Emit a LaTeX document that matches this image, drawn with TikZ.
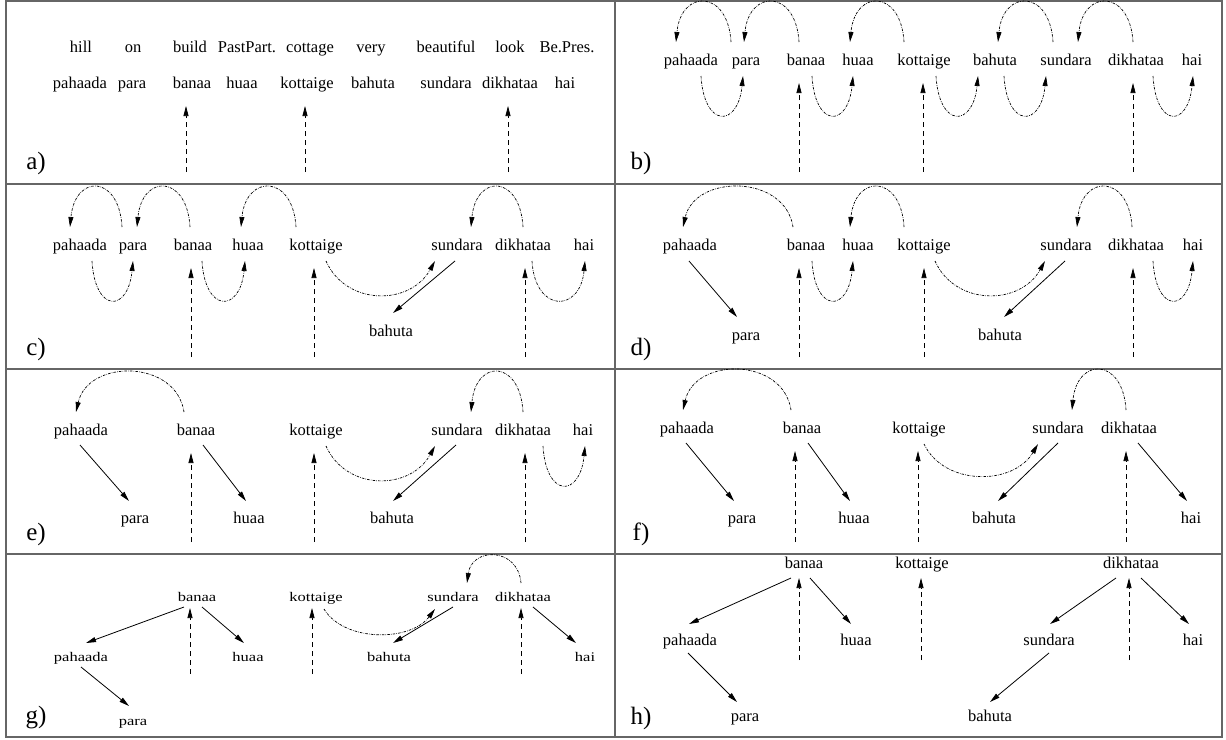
\documentclass[tikz,border=0pt]{standalone}
\usepackage{fontspec}
\setmainfont{Liberation Serif}
\usetikzlibrary{arrows.meta,calc}
\tikzset{
  wd/.style={font=\fontsize{16.5}{16.5}\selectfont, inner sep=0pt, text height=11pt, text depth=3.5pt},
  tipk/.style={-{Triangle[length=10pt,width=5pt]}},
  arcl/.style={tipk, line width=0.7pt, dash pattern=on 2.5pt off 1.2pt on 0.6pt off 1.2pt},
  dasharr/.style={tipk, line width=0.7pt, dash pattern=on 5pt off 4pt},
  solidarr/.style={tipk, line width=0.8pt},
  lbl/.style={font=\fontsize{25}{25}\selectfont, inner sep=0pt},
  frame/.style={draw=black!60, line width=1.3pt}
}
\newcommand\uarc[4]{\draw[arcl] ([shift={(#2,-20)}]#1.center) .. controls +(-3,-53) and +(5,-53) .. ([shift={(#4,-20)}]#3.center);}
\newcommand\larc[4]{\draw[arcl] ([shift={(#2,14)}]#1.center) .. controls +(3,52) and +(-5,52) .. ([shift={(#4,14)}]#3.center);}
\newcommand\sarr[6]{\draw[solidarr] ([shift={(#2,#3)}]#1.center) -- ([shift={(#5,#6)}]#4.center);}
\newcommand\darr[4]{\coordinate (#1-foot) at ([shift={(#2,#4)}]#1.center); \draw[dasharr] (#1-foot) -- ([shift={(#2,#3)}]#1.center);}
\newcommand\gs[1]{\scalebox{1}[0.8]{#1}}
\begin{document}
\begin{tikzpicture}[x=1pt,y=-1pt]
\useasboundingbox (0,0) rectangle (1226,739);
% frame
\draw[frame] (6,1) rectangle (1222,737);
\draw[frame] (615,1) -- (615,737);
\draw[frame] (6,184) -- (1222,184);
\draw[frame] (6,369) -- (1222,369);
\draw[frame] (6,554) -- (1222,554);
% labels
\node[lbl] (la) at (36,163) {a)};
\node[lbl] (lb) at (641,163) {b)};
\node[lbl] (lc) at (36,349) {c)};
\node[lbl] (ld) at (641,349) {d)};
\node[lbl] (le) at (36,534) {e)};
\node[lbl] (lf) at (641,534) {f)};
\node[lbl] (lg) at (36,718) {g)};
\node[lbl] (lh) at (641,718) {h)};

% ---------- panel a
\node[wd] (a-hill) at (81,49) {hill};
\node[wd] (a-on) at (133,49) {on};
\node[wd] (a-build) at (190,49) {build};
\node[wd] (a-pp) at (247,49) {PastPart.};
\node[wd] (a-cottage) at (310,49) {cottage};
\node[wd] (a-very) at (371,49) {very};
\node[wd] (a-beautiful) at (446,49) {beautiful};
\node[wd] (a-look) at (510,49) {look};
\node[wd] (a-bepres) at (567,49) {Be.Pres.};
\node[wd] (a-pahaada) at (80,85) {pahaada};
\node[wd] (a-para) at (132,85) {para};
\node[wd] (a-banaa) at (192,85) {banaa};
\node[wd] (a-huaa) at (242,85) {huaa};
\node[wd] (a-kottaige) at (307,85) {kottaige};
\node[wd] (a-bahuta) at (373,85) {bahuta};
\node[wd] (a-sundara) at (446,85) {sundara};
\node[wd] (a-dikhataa) at (510,85) {dikhataa};
\node[wd] (a-hai) at (565,85) {hai};
\darr{a-banaa}{-6}{21}{87}
\darr{a-kottaige}{-2}{21}{87}
\darr{a-dikhataa}{-2}{21}{87}

% ---------- panel b
\node[wd] (b-pahaada) at (691,62) {pahaada};
\node[wd] (b-para) at (746,62) {para};
\node[wd] (b-banaa) at (806,62) {banaa};
\node[wd] (b-huaa) at (858,62) {huaa};
\node[wd] (b-kottaige) at (924,62) {kottaige};
\node[wd] (b-bahuta) at (995,62) {bahuta};
\node[wd] (b-sundara) at (1066,62) {sundara};
\node[wd] (b-dikhataa) at (1136,62) {dikhataa};
\node[wd] (b-hai) at (1192,62) {hai};
\uarc{b-para}{-15}{b-pahaada}{-15}
\uarc{b-banaa}{-7}{b-para}{-2}
\uarc{b-kottaige}{-20}{b-huaa}{-8}
\uarc{b-sundara}{-13}{b-bahuta}{3}
\uarc{b-dikhataa}{-3}{b-sundara}{12}
\larc{b-pahaada}{10}{b-para}{-3}
\larc{b-banaa}{6}{b-huaa}{-5}
\larc{b-kottaige}{12}{b-bahuta}{-17}
\larc{b-bahuta}{9}{b-sundara}{-20}
\larc{b-dikhataa}{17}{b-hai}{1}
\darr{b-banaa}{-7}{21}{110}
\darr{b-kottaige}{-1}{21}{110}
\darr{b-dikhataa}{-3}{21}{110}

% ---------- panel c
\node[wd] (c-pahaada) at (80,247) {pahaada};
\node[wd] (c-para) at (133,247) {para};
\node[wd] (c-banaa) at (193,247) {banaa};
\node[wd] (c-huaa) at (248,247) {huaa};
\node[wd] (c-kottaige) at (316,247) {kottaige};
\node[wd] (c-sundara) at (457,247) {sundara};
\node[wd] (c-dikhataa) at (523,247) {dikhataa};
\node[wd] (c-hai) at (584,247) {hai};
\node[wd] (c-bahuta) at (391,333) {bahuta};
\uarc{c-para}{-11}{c-pahaada}{-10}
\uarc{c-banaa}{-3}{c-para}{4}
\uarc{c-kottaige}{-20}{c-huaa}{-7}
\uarc{c-dikhataa}{0}{c-sundara}{14}
\larc{c-pahaada}{12}{c-para}{0}
\larc{c-banaa}{9}{c-huaa}{-3}
\larc{c-dikhataa}{9}{c-hai}{1}
\draw[arcl] ([shift={(10,14)}]c-kottaige.center) .. controls +(20,45) and +(-25,45) .. ([shift={(-22,14)}]c-sundara.center);
\sarr{c-sundara}{-2}{14}{c-bahuta}{2}{-20}
\darr{c-banaa}{-2}{21}{110}
\darr{c-kottaige}{-2}{21}{110}
\darr{c-dikhataa}{2}{21}{110}

% ---------- panel d
\node[wd] (d-pahaada) at (690,247) {pahaada};
\node[wd] (d-banaa) at (806,247) {banaa};
\node[wd] (d-huaa) at (858,247) {huaa};
\node[wd] (d-kottaige) at (924,247) {kottaige};
\node[wd] (d-sundara) at (1066,247) {sundara};
\node[wd] (d-dikhataa) at (1136,247) {dikhataa};
\node[wd] (d-hai) at (1193,247) {hai};
\node[wd] (d-para) at (746,337) {para};
\node[wd] (d-bahuta) at (1000,337) {bahuta};
\draw[arcl] ([shift={(-13,-20)}]d-banaa.center) .. controls +(-8,-53) and +(12,-53) .. ([shift={(-7,-20)}]d-pahaada.center);
\uarc{d-kottaige}{-20}{d-huaa}{-8}
\uarc{d-dikhataa}{-4}{d-sundara}{11}
\larc{d-banaa}{6}{d-huaa}{-5}
\larc{d-dikhataa}{17}{d-hai}{0}
\draw[arcl] ([shift={(11,14)}]d-kottaige.center) .. controls +(20,45) and +(-25,45) .. ([shift={(-21,14)}]d-sundara.center);
\sarr{d-pahaada}{-1}{14}{d-para}{-9}{-20}
\sarr{d-sundara}{-1}{14}{d-bahuta}{4}{-20}
\darr{d-banaa}{-7}{21}{110}
\darr{d-kottaige}{0}{21}{110}
\darr{d-dikhataa}{-3}{21}{110}

% ---------- panel e
\node[wd] (e-pahaada) at (81,432) {pahaada};
\node[wd] (e-banaa) at (196,432) {banaa};
\node[wd] (e-kottaige) at (316,432) {kottaige};
\node[wd] (e-sundara) at (457,432) {sundara};
\node[wd] (e-dikhataa) at (523,432) {dikhataa};
\node[wd] (e-hai) at (583,432) {hai};
\node[wd] (e-para) at (135,520) {para};
\node[wd] (e-huaa) at (249,520) {huaa};
\node[wd] (e-bahuta) at (392,520) {bahuta};
\draw[arcl] ([shift={(-12,-20)}]e-banaa.center) .. controls +(-8,-53) and +(12,-53) .. ([shift={(-5,-20)}]e-pahaada.center);
\uarc{e-dikhataa}{0}{e-sundara}{14}
\draw[arcl] ([shift={(10,14)}]e-kottaige.center) .. controls +(20,45) and +(-25,45) .. ([shift={(-22,14)}]e-sundara.center);
\larc{e-dikhataa}{20}{e-hai}{2}
\sarr{e-pahaada}{-1}{13}{e-para}{-6}{-19}
\sarr{e-banaa}{7}{13}{e-huaa}{-3}{-19}
\sarr{e-sundara}{-1}{13}{e-bahuta}{1}{-19}
\darr{e-banaa}{-5}{21}{110}
\darr{e-kottaige}{-2}{21}{110}
\darr{e-dikhataa}{2}{21}{110}

% ---------- panel f
\node[wd] (f-pahaada) at (687,430) {pahaada};
\node[wd] (f-banaa) at (802,430) {banaa};
\node[wd] (f-kottaige) at (919,430) {kottaige};
\node[wd] (f-sundara) at (1058,430) {sundara};
\node[wd] (f-dikhataa) at (1129,430) {dikhataa};
\node[wd] (f-para) at (742,520) {para};
\node[wd] (f-huaa) at (854,520) {huaa};
\node[wd] (f-bahuta) at (994,520) {bahuta};
\node[wd] (f-hai) at (1191,520) {hai};
\draw[arcl] ([shift={(-11,-20)}]f-banaa.center) .. controls +(-8,-53) and +(12,-53) .. ([shift={(-4,-20)}]f-pahaada.center);
\uarc{f-dikhataa}{-3}{f-sundara}{14}
\draw[arcl] ([shift={(5,14)}]f-kottaige.center) .. controls +(20,42) and +(-25,42) .. ([shift={(-20,14)}]f-sundara.center);
\sarr{f-pahaada}{-1}{13}{f-para}{-8}{-19}
\sarr{f-banaa}{6}{13}{f-huaa}{-4}{-19}
\sarr{f-sundara}{0}{13}{f-bahuta}{4}{-19}
\sarr{f-dikhataa}{9}{13}{f-hai}{-4}{-19}
\darr{f-banaa}{-7}{21}{112}
\darr{f-kottaige}{-1}{21}{112}
\darr{f-dikhataa}{-3}{21}{112}

% ---------- panel g
\node[wd] (g-banaa) at (197,598) {\gs{banaa}};
\node[wd] (g-kottaige) at (316,598) {\gs{kottaige}};
\node[wd] (g-sundara) at (453,598) {\gs{sundara}};
\node[wd] (g-dikhataa) at (523,598) {\gs{dikhataa}};
\node[wd] (g-pahaada) at (81,658) {\gs{pahaada}};
\node[wd] (g-huaa) at (248,658) {\gs{huaa}};
\node[wd] (g-bahuta) at (389,658) {\gs{bahuta}};
\node[wd] (g-hai) at (585,658) {\gs{hai}};
\node[wd] (g-para) at (133,722) {\gs{para}};
\draw[arcl] ([shift={(-2,-15)}]g-dikhataa.center) .. controls +(-3,-36) and +(5,-36) .. ([shift={(14,-15)}]g-sundara.center);
\draw[arcl] ([shift={(8,11)}]g-kottaige.center) .. controls +(20,33) and +(-25,33) .. ([shift={(-18,11)}]g-sundara.center);
\sarr{g-banaa}{-13}{9}{g-pahaada}{5}{-15}
\sarr{g-banaa}{5}{9}{g-huaa}{-4}{-15}
\sarr{g-sundara}{0}{9}{g-bahuta}{4}{-15}
\sarr{g-dikhataa}{10}{9}{g-hai}{-9}{-15}
\sarr{g-pahaada}{0}{9}{g-para}{-4}{-16}
\darr{g-banaa}{-7}{10}{76}
\darr{g-kottaige}{-4}{10}{76}
\darr{g-dikhataa}{-2}{10}{76}

% ---------- panel h
\node[wd] (h-banaa) at (804,565) {banaa};
\node[wd] (h-kottaige) at (922,565) {kottaige};
\node[wd] (h-dikhataa) at (1131,565) {dikhataa};
\node[wd] (h-pahaada) at (690,642) {pahaada};
\node[wd] (h-huaa) at (856,642) {huaa};
\node[wd] (h-sundara) at (1049,642) {sundara};
\node[wd] (h-hai) at (1193,642) {hai};
\node[wd] (h-para) at (745,718) {para};
\node[wd] (h-bahuta) at (990,718) {bahuta};
\sarr{h-banaa}{-13}{13}{h-pahaada}{-1}{-18}
\sarr{h-banaa}{6}{13}{h-huaa}{-5}{-18}
\sarr{h-dikhataa}{-15}{13}{h-sundara}{1}{-18}
\sarr{h-dikhataa}{10}{13}{h-hai}{-4}{-18}
\sarr{h-pahaada}{-2}{11}{h-para}{-8}{-16}
\sarr{h-sundara}{0}{11}{h-bahuta}{0}{-16}
\darr{h-banaa}{-5}{13}{95}
\darr{h-kottaige}{-1}{13}{95}
\darr{h-dikhataa}{-2}{13}{95}
\end{tikzpicture}
\end{document}
